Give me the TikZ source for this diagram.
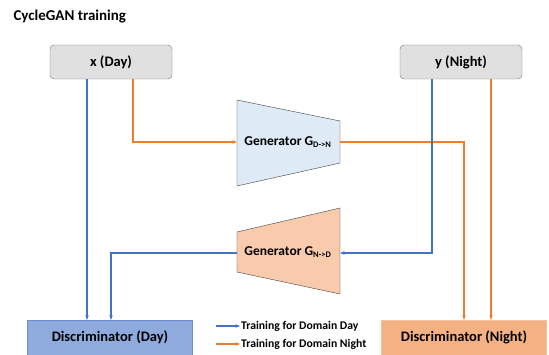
\documentclass[tikz,border=0pt]{standalone}
\usepackage{fontspec}
\setmainfont{Carlito}
\usepackage{tikz}
\usetikzlibrary{arrows.meta, positioning}
\definecolor{dayline}{HTML}{4472C4}
\definecolor{nightline}{HTML}{ED7D31}
\definecolor{dayfill}{HTML}{8FAADC}
\definecolor{nightfill}{HTML}{F4B183}
\definecolor{genday}{HTML}{DEEBF7}
\definecolor{gennight}{HTML}{F8CBAD}
\definecolor{inbox}{HTML}{E0E0E0}
\tikzset{>={Stealth[length=4.5pt,width=3.5pt]}}
\tikzset{
  day/.style={draw=dayline, line width=1.1pt, ->},
  night/.style={draw=nightline, line width=1.1pt, ->},
  inputbox/.style={draw=black!55, fill=inbox, rounded corners=4pt, minimum width=122pt, minimum height=34pt, font=\fontsize{14.5}{16}\selectfont\bfseries},
  discbox/.style={minimum width=165pt, minimum height=35pt, font=\fontsize{14.5}{16}\selectfont\bfseries},
  gentext/.style={font=\fontsize{13.5}{15}\selectfont\bfseries},
  legtext/.style={anchor=west, inner sep=1pt, font=\fontsize{11.7}{13}\selectfont\bfseries}
}
\newcommand{\subtext}[1]{\textsubscript{\fontsize{8.5}{9}\selectfont #1}}
\begin{document}
\begin{tikzpicture}[x=1pt, y=-1pt]
        \useasboundingbox (0,0) rectangle (549,355);

        \node[anchor=west, font=\fontsize{15}{17}\selectfont\bfseries] (title) at (10,17) {CycleGAN training};

        \node[inputbox] (xday) at (111,62) {x (Day)};
        \node[inputbox] (ynight) at (461,62) {y (Night)};

        % generators
        \draw[draw=black!75, fill=genday] (237,100) -- (340,121) -- (340,163) -- (237,186) -- cycle;
        \draw[draw=black!75, fill=gennight] (237,232) -- (340,208) -- (340,294) -- (237,272) -- cycle;
        \coordinate (g1w) at (237,142);
        \coordinate (g1e) at (340,142);
        \coordinate (g2w) at (237,253);
        \coordinate (g2e) at (340,253);
        \node[gentext] (g1) at (288,142) {Generator G\subtext{D->N}};
        \node[gentext] (g2) at (288,252) {Generator G\subtext{N->D}};

        \node[discbox, draw=dayline!80, fill=dayfill] (dday) at (110,337.5) {Discriminator (Day)};
        \node[discbox, draw=nightfill!80!white, fill=nightfill] (dnight) at (464,337.5) {Discriminator (Night)};

        \draw[day] ([xshift=-24pt]xday.south) -- ([xshift=-24pt]xday.south |- dday.north);
        \draw[night] ([xshift=22pt]xday.south) |- (g1w);
        \draw[night] (g1e) -| (dnight.north);
        \draw[night] ([xshift=30pt]ynight.south) -- ([xshift=30pt]ynight.south |- dnight.north);
        \draw[day] ([xshift=-29pt]ynight.south) |- (g2e);
        \draw[day] (g2w) -| ([xshift=1pt]dday.north);

        % legend
        \node[legtext] (lday) at (240,326) {Training for Domain Day};
        \node[legtext] (lnight) at (240,344) {Training for Domain Night};
        \draw[day] ([xshift=-24pt]lday.west) -- (lday.west);
        \draw[night] ([xshift=-24pt]lnight.west) -- (lnight.west);
\end{tikzpicture}
\end{document}
